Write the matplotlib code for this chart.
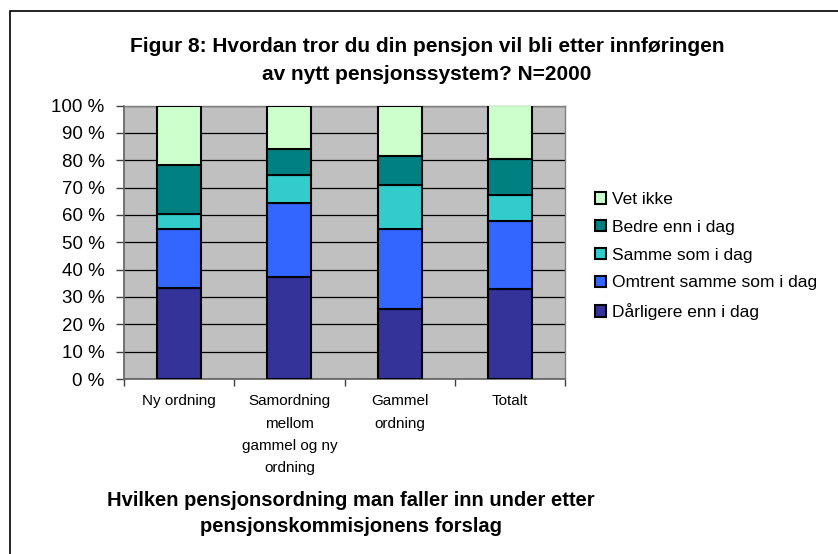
import matplotlib
matplotlib.use("Agg")
import matplotlib.pyplot as plt
from matplotlib.patches import Rectangle
import numpy as np

plt.rcParams['font.family'] = ['Liberation Sans', 'DejaVu Sans']

categories = ["Ny ordning", "Samordning\nmellom\ngammel og ny\nordning", "Gammel\nordning", "Totalt"]
series_names = ["Dårligere enn i dag", "Omtrent samme som i dag", "Samme som i dag",
                "Bedre enn i dag", "Vet ikke"]
darligere = [33.4, 37.3, 25.5, 32.8]
omtrent = [21.4, 27.0, 29.3, 24.8]
samme = [5.7, 10.2, 16.1, 9.5]
bedre = [17.7, 9.5, 10.8, 13.3]
vet_ikke = [21.8, 16.0, 18.3, 19.6]
series_values = [darligere, omtrent, samme, bedre, vet_ikke]
colors = ["#333399", "#3366FF", "#33CCCC", "#008080", "#CCFFCC"]
ytick_values = list(range(0, 101, 10))
ytick_labels = [f"{v} %" for v in ytick_values]

W, H = 838, 554
fig = plt.figure(figsize=(W / 100, H / 100), dpi=100)
fig.patch.set_facecolor("white")

# chart border
fig.patches.append(Rectangle((10 / W, -0.1), 1.2, (H - 11) / H + 0.1, transform=fig.transFigure,
                             fill=False, edgecolor="black", linewidth=1.2))

ax = fig.add_axes([124 / W, (H - 379) / H, 441 / W, 273.5 / H])
ax.set_facecolor("#C0C0C0")
x = np.arange(len(categories))
bottom = np.zeros(len(categories))
handles = []
for name, vals, c in zip(series_names, series_values, colors):
    vals = np.array(vals)
    b = ax.bar(x, vals, 0.4, bottom=bottom, color=c, edgecolor="black", linewidth=1.5,
               label=name, zorder=3)
    handles.append(b)
    bottom += vals

ax.set_xlim(-0.5, 3.5)
ax.set_ylim(0, 100)
ax.set_yticks(ytick_values)
ax.set_yticklabels(ytick_labels, fontsize=13.5)
ax.yaxis.grid(True, color="black", linewidth=0.9, zorder=1)
ax.set_axisbelow(True)
ax.tick_params(axis="y", length=6, width=1, color="#404040", pad=8)

ax.set_xticks(x)
ax.set_xticklabels(categories, fontsize=11, linespacing=1.75, va="top")
ax.set_xticks(np.arange(-0.5, 4.0, 1.0), minor=True)
ax.tick_params(axis="x", which="major", length=0, pad=11)
ax.tick_params(axis="x", which="minor", length=5, width=1, color="#404040")

for s in ["top", "right"]:
    ax.spines[s].set_color("#808080")
    ax.spines[s].set_linewidth(1.0)
for s in ["left", "bottom"]:
    ax.spines[s].set_color("#606060")
    ax.spines[s].set_linewidth(1.2)

leg = fig.legend(handles[::-1], series_names[::-1], loc="upper left",
                 bbox_to_anchor=(588 / W, 1 - 185 / H), frameon=False, fontsize=12.5,
                 handlelength=0.65, handleheight=0.65, handletextpad=0.35, labelspacing=0.74,
                 borderaxespad=0)

fig.text(427 / W, 1 - 47 / H, "Figur 8: Hvordan tror du din pensjon vil bli etter innføringen",
         ha="center", va="center", fontsize=15, fontweight="bold")
fig.text(427 / W, 1 - 74 / H, "av nytt pensjonssystem? N=2000",
         ha="center", va="center", fontsize=15, fontweight="bold")
fig.text(351 / W, 1 - 500 / H, "Hvilken pensjonsordning man faller inn under etter",
         ha="center", va="center", fontsize=14.5, fontweight="bold")
fig.text(351 / W, 1 - 527 / H, "pensjonskommisjonens forslag",
         ha="center", va="center", fontsize=14.5, fontweight="bold")

fig.savefig("out.png", dpi=100)
